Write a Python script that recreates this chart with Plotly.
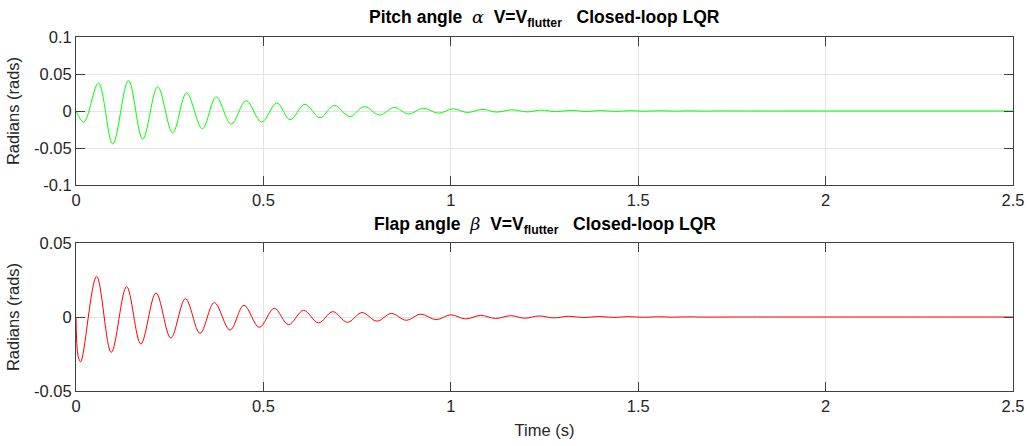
import plotly.graph_objects as go

# Pitch angle alpha: extrema (time s, rad)
alpha_t = [0, 0.021, 0.060, 0.098, 0.140, 0.178, 0.218, 0.258, 0.295, 0.337,
           0.374, 0.414, 0.454, 0.495, 0.536, 0.571, 0.611, 0.651, 0.689, 0.731,
           0.769, 0.810, 0.849, 0.887, 0.927, 0.967, 1.006, 1.043, 1.086, 1.121,
           1.163, 1.204, 1.240, 1.280, 1.320, 1.360, 1.399, 1.439, 1.478, 1.518,
           1.557, 1.597, 1.636, 1.676, 1.715, 1.80, 1.90, 2.5]
alpha_v = [0, -0.015, 0.0377, -0.0445, 0.0413, -0.038, 0.0327, -0.0295, 0.0245, -0.024,
           0.019, -0.0177, 0.014, -0.015, 0.0109, -0.0118, 0.0091, -0.0091, 0.0075, -0.0075,
           0.006, -0.0055, 0.0048, -0.004, 0.0037, -0.003, 0.003, -0.002, 0.0022, -0.0015,
           0.0016, -0.0012, 0.0012, -0.0009, 0.0009, -0.0007, 0.0006, -0.0005, 0.0004, -0.0003,
           0.0003, -0.0002, 0.0002, -0.00015, 0.0001, 0, 0, 0]

# Flap angle beta: extrema (time s, rad)
beta_t = [0, 0.006, 0.0125, 0.055, 0.094, 0.135, 0.173, 0.2135, 0.253, 0.292,
          0.331, 0.369, 0.411, 0.448, 0.489, 0.529, 0.567, 0.607, 0.647, 0.685,
          0.724, 0.763, 0.803, 0.841, 0.881, 0.920, 0.961, 1.000, 1.039, 1.080,
          1.119, 1.160, 1.197, 1.235, 1.275, 1.315, 1.355, 1.394, 1.434, 1.473,
          1.513, 1.552, 1.592, 1.631, 1.671, 1.75, 1.85, 2.5]
beta_v = [0, -0.027, -0.0302, 0.0275, -0.0239, 0.0205, -0.0182, 0.0162, -0.0142, 0.0124,
          -0.011, 0.0097, -0.0088, 0.0079, -0.007, 0.0059, -0.0052, 0.0045, -0.004, 0.0036,
          -0.0036, 0.003, -0.0028, 0.0024, -0.0022, 0.0019, -0.0018, 0.0015, -0.0013, 0.0011,
          -0.001, 0.0009, -0.0008, 0.0007, -0.0006, 0.0005, -0.0004, 0.00035, -0.0003, 0.00025,
          -0.0002, 0.00015, -0.0001, 0.0001, -0.00005, 0, 0, 0]

x_ticks = [0, 0.5, 1, 1.5, 2, 2.5]
x_ticklabels = ["0", "0.5", "1", "1.5", "2", "2.5"]
alpha_yticks = [-0.1, -0.05, 0, 0.05, 0.1]
alpha_yticklabels = ["-0.1", "-0.05", "0", "0.05", "0.1"]
beta_yticks = [-0.05, 0, 0.05]
beta_yticklabels = ["-0.05", "0", "0.05"]

FONT = "Liberation Sans, Arial, Helvetica, sans-serif"
AX = "#404040"
TXT = "#262626"
GRID = "#e3e3e3"
FS = 16.5

fig = go.Figure()
fig.add_trace(go.Scatter(x=alpha_t, y=alpha_v, mode="lines",
                         line=dict(color="#00ff00", width=1, shape="spline", smoothing=1),
                         xaxis="x", yaxis="y", showlegend=False))
fig.add_trace(go.Scatter(x=beta_t, y=beta_v, mode="lines",
                         line=dict(color="#ff0000", width=1, shape="spline", smoothing=1),
                         xaxis="x2", yaxis="y2", showlegend=False))

H = 446
top, bottom = 37, 55
ph = H - top - bottom

def py(pix):
    return (H - bottom - pix) / ph

common_x = dict(range=[0, 2.5], tickvals=x_ticks, ticktext=x_ticklabels,
                showline=True, linecolor=AX, linewidth=1, mirror="ticks",
                ticks="inside", ticklen=9, tickcolor=AX, tickwidth=1,
                showgrid=True, gridcolor=GRID, gridwidth=1, zeroline=False,
                automargin=False,
                tickfont=dict(family=FONT, size=FS, color=TXT))
common_y = dict(showline=True, linecolor=AX, linewidth=1, mirror="ticks",
                ticks="inside", ticklen=9, tickcolor=AX, tickwidth=1,
                showgrid=True, gridcolor=GRID, gridwidth=1, zeroline=False,
                automargin=False,
                tickfont=dict(family=FONT, size=FS, color=TXT),
                title=dict(text="Radians (rads)", font=dict(family=FONT, size=FS, color=TXT), standoff=10))

fig.update_layout(
    width=1027, height=446,
    margin=dict(l=76, r=14, t=top, b=bottom),
    paper_bgcolor="white", plot_bgcolor="white",
    font=dict(family=FONT, color=TXT),
    xaxis=dict(domain=[0, 1], anchor="y", **common_x),
    yaxis=dict(domain=[py(185), 1], anchor="x", range=[-0.1, 0.1],
               tickvals=alpha_yticks, ticktext=alpha_yticklabels, **common_y),
    xaxis2=dict(domain=[0, 1], anchor="y2",
                title=dict(text="Time (s)", font=dict(family=FONT, size=FS, color=TXT), standoff=10),
                **common_x),
    yaxis2=dict(domain=[0, py(243)], anchor="x2", range=[-0.05, 0.05],
                tickvals=beta_yticks, ticktext=beta_yticklabels, **common_y),
)

serif = "font-family:'DejaVu Serif','Liberation Serif',serif;font-weight:normal"
title1 = ("<b>Pitch angle</b>  <span style=\"" + serif + "\"><i>α</i></span>  "
          "<b>V=V<sub>flutter</sub>   Closed-loop LQR</b>")
title2 = ("<b>Flap angle</b>  <span style=\"" + serif + "\"><i>β</i></span>  "
          "<b>V=V<sub>flutter</sub>   Closed-loop LQR</b>")

fig.add_annotation(text=title1, xref="paper", yref="paper", x=0.5, y=py(19),
                   xanchor="center", yanchor="middle", showarrow=False,
                   font=dict(family=FONT, size=17.5, color="black"))
fig.add_annotation(text=title2, xref="paper", yref="paper", x=0.5, y=py(225),
                   xanchor="center", yanchor="middle", showarrow=False,
                   font=dict(family=FONT, size=17.5, color="black"))

fig.write_html("out.html", config={"displayModeBar": False},
               post_script="document.body.style.margin='0';")
